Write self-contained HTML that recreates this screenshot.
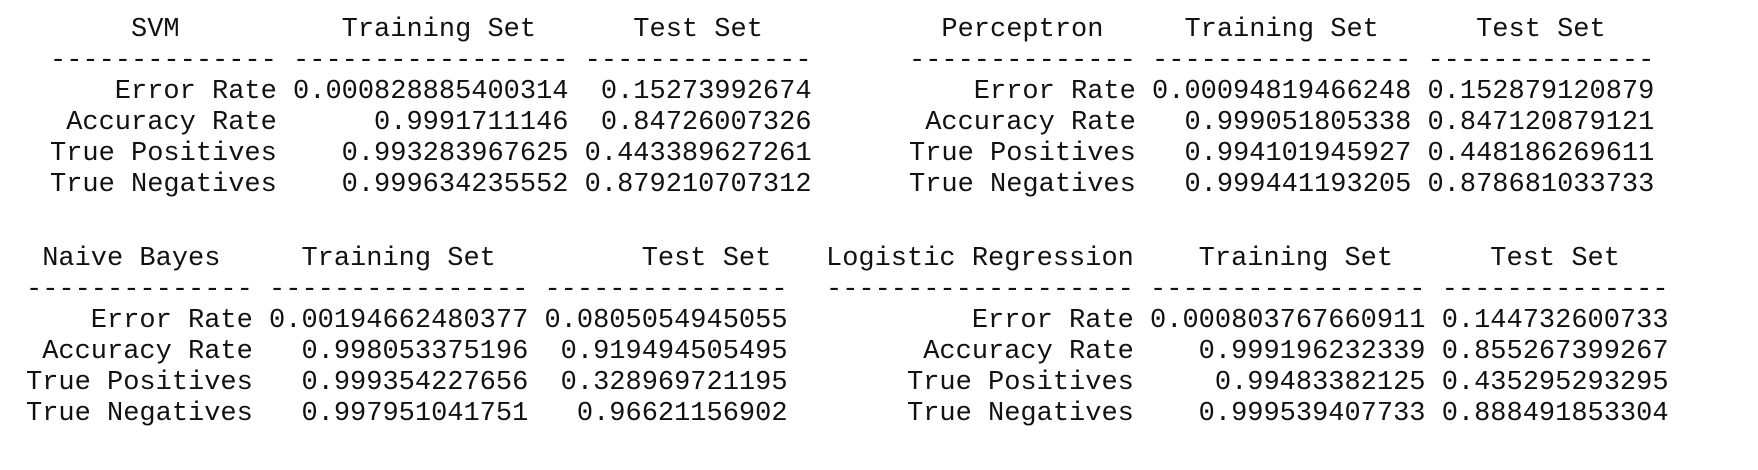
<!DOCTYPE html>
<html><head><meta charset="utf-8"><style>
html,body{margin:0;padding:0;background:#fff;width:1758px;height:470px;overflow:hidden;}
pre{position:absolute;margin:0;font-family:"Liberation Mono",monospace;font-size:27px;line-height:31px;color:#111;}
</style></head><body>
<pre style="left:50px;top:15px">     SVM          Training Set      Test Set   
-------------- ----------------- --------------
    Error Rate 0.000828885400314  0.15273992674
 Accuracy Rate      0.9991711146  0.84726007326
True Positives    0.993283967625 0.443389627261
True Negatives    0.999634235552 0.879210707312</pre>
<pre style="left:909px;top:15px">  Perceptron     Training Set      Test Set   
-------------- ---------------- --------------
    Error Rate 0.00094819466248 0.152879120879
 Accuracy Rate   0.999051805338 0.847120879121
True Positives   0.994101945927 0.448186269611
True Negatives   0.999441193205 0.878681033733</pre>
<pre style="left:26px;top:244px"> Naive Bayes     Training Set         Test Set   
-------------- ---------------- ---------------
    Error Rate 0.00194662480377 0.0805054945055
 Accuracy Rate   0.998053375196  0.919494505495
True Positives   0.999354227656  0.328969721195
True Negatives   0.997951041751   0.96621156902</pre>
<pre style="left:826px;top:244px">Logistic Regression    Training Set      Test Set   
------------------- ----------------- --------------
         Error Rate 0.000803767660911 0.144732600733
      Accuracy Rate    0.999196232339 0.855267399267
     True Positives     0.99483382125 0.435295293295
     True Negatives    0.999539407733 0.888491853304</pre>
</body></html>
